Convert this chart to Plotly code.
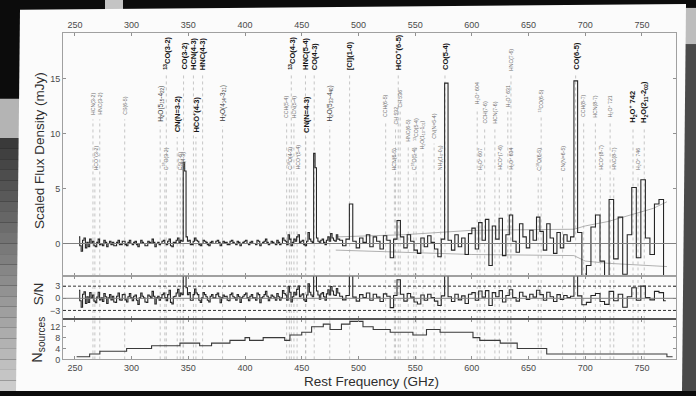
import plotly.graph_objects as go

W, H = 696, 396


def px(x):
    return x / W


def py(y):
    return 1 - y / H


# ---------------- data ----------------
# stacked spectrum, segment A: 253-483 GHz in 1.25 GHz channels
SEG_A_START, SEG_A_WIDTH = 253.0, 1.25
flux_a = [
    0.6, -0.2, -0.7, 0.3, 0.5, -0.4, 0.1, -0.3, 0.4, 0.0, 0.2, -0.2, -0.3, 0.1, 0.4, -0.1, 0.0, -0.2, 0.3, 0.1,
    -0.3, 0.0, 0.2, -0.1, 0.1, -0.2, -0.2, 0.1, 0.3, -0.1, -0.1, 0.2, 0.2, -0.1, -0.2, 0.1, 0.3, 0.0, -0.1, 0.1,
    0.2, -0.1, -0.3, 0.0, 0.3, 0.1, 0.0, -0.2, -0.2, 0.2, 0.1, 0.0, 0.4, 0.1, -0.3, 0.0, 0.1, -0.1, 0.0, 0.2,
    0.3, 0.0, -0.1, 0.2, 0.4, -0.2, -0.3, 0.1, 0.1, 0.3, 0.5, 0.1, 0.3, 0.2, 7.4, 6.6, 0.6, 0.2, 0.3, -0.1,
    -0.1, 0.2, 0.5, 0.3, 0.2, -0.1, -0.2, 0.0, 0.3, 0.2, 0.1, -0.1, -0.2, 0.1, 0.2, 0.0, 0.0, 0.2, 0.3, 0.1,
    -0.2, 0.0, 0.2, 0.1, 0.1, -0.1, -0.1, 0.2, 0.3, 0.1, 0.0, -0.1, 0.2, 0.1, -0.2, 0.0, 0.1, 0.2, 0.3, 0.0,
    -0.1, 0.1, 0.2, 0.0, 0.0, -0.1, 0.3, 0.2, -0.2, 0.0, 0.1, 0.2, 0.4, 0.1, -0.1, 0.0, 0.2, 0.1, 0.0, -0.1,
    0.3, 0.1, -0.1, 0.0, 0.5, 0.3, 0.2, -0.1, 0.8, 0.4, -0.2, 0.1, 0.4, 0.2, 0.6, 0.8, 0.1, 0.2, 0.3, -0.1,
    -0.2, 0.2, 1.0, 0.4, 0.2, 0.1, 8.2, 6.9, 0.5, 0.2, 0.0, 0.3, 0.4, 0.1, -0.1, 0.3, 0.6, 0.2, 0.9, 0.5,
    0.3, 0.2, 0.8, 0.4,
]
sn_a = [
    2.0, -0.6, -2.2, 1.0, 1.6, -1.3, 0.4, -1.0, 1.4, 0.1, 0.8, -0.7, -1.1, 0.3, 1.5, -0.4, 0.1, -0.8, 1.2, 0.4,
    -1.3, 0.1, 0.9, -0.4, 0.5, -0.9, -1.0, 0.5, 1.3, -0.4, -0.5, 0.9, 1.0, -0.4, -0.9, 0.4, 1.2, 0.1, -0.6, 0.5,
    0.8, -0.5, -1.5, 0.1, 1.3, 0.5, 0.1, -0.9, -1.0, 0.8, 0.5, 0.1, 1.7, 0.5, -1.4, 0.1, 0.5, -0.5, 0.1, 0.9,
    1.3, 0.2, -0.6, 0.9, 2.0, -1.0, -1.4, 0.4, 0.5, 1.3, 2.2, 0.5, 1.3, 0.9, 25.0, 22.0, 2.6, 0.9, 1.4, -0.5,
    -0.5, 0.9, 2.3, 1.3, 0.9, -0.5, -1.0, 0.1, 1.4, 0.9, 0.4, -0.5, -0.9, 0.5, 0.9, 0.1, 0.1, 0.9, 1.3, 0.4,
    -1.1, 0.1, 0.8, 0.4, 0.5, -0.5, -0.6, 0.9, 1.3, 0.4, 0.1, -0.5, 0.9, 0.4, -1.0, 0.1, 0.5, 0.9, 1.3, 0.1,
    -0.6, 0.5, 0.9, 0.1, 0.1, -0.5, 1.3, 0.9, -1.1, 0.1, 0.4, 0.9, 1.7, 0.5, -0.6, 0.1, 0.8, 0.5, 0.1, -0.5,
    1.2, 0.4, -0.5, 0.1, 1.9, 1.2, 0.8, -0.5, 2.9, 1.5, -0.9, 0.4, 1.5, 0.8, 2.2, 3.0, 0.4, 0.8, 1.1, -0.4,
    -0.8, 0.8, 3.6, 1.5, 0.8, 0.4, 25.0, 22.0, 1.8, 0.8, -0.2, 1.1, 1.4, 0.4, -0.5, 1.1, 2.1, 0.8, 2.9, 1.8,
    0.8, 0.7, 2.4, 1.3,
]
# segment B: 483-693 GHz in 3 GHz channels
SEG_B_START, SEG_B_WIDTH = 483.0, 3.0
flux_b = [
    0.3, -0.2, 0.4, 3.6, 0.2, -0.4, 0.5, 0.1, 0.8, -0.3,
    0.6, 0.2, -0.5, 0.7, 0.3, -1.3, 0.4, 2.1, 0.6, -0.4,
    0.8, 0.2, -0.6, -0.9, 0.5, -0.3, 0.7, 0.1, -0.5, -1.2,
    0.4, 14.6, 0.3, -0.6, 0.8, -0.3, 0.5, -1.0, 0.9, 1.4,
    -0.5, 1.9, 0.3, 2.2, -2.0, 1.6, 0.4, 2.3, -1.1, 0.8,
    2.6, 0.2, -0.8, 1.8, 0.6, -0.4, 1.2, 0.3, 2.4, 1.1,
    -0.6, 1.8, 0.5, -0.9, 1.0, -0.4, 0.8, 0.2, 0.6, 14.8,
]
sn_b = [
    0.5, -0.4, 0.7, 6.0, 0.3, -0.7, 0.9, 0.2, 1.3, -0.5,
    1.0, 0.3, -0.8, 1.1, 0.5, -2.3, 0.7, 4.6, 1.0, -0.7,
    1.2, 0.3, -0.9, -1.4, 0.8, -0.5, 1.0, 0.2, -0.7, -1.8,
    0.6, 20.0, 0.4, -0.8, 1.0, -0.4, 0.6, -1.3, 1.0, 1.4,
    -0.5, 1.8, 0.3, 1.9, -1.8, 1.4, 0.4, 1.9, -0.9, 0.7,
    2.1, 0.2, -0.7, 1.5, 0.5, -0.3, 1.0, 0.3, 2.0, 0.9,
    -0.5, 1.5, 0.4, -0.8, 0.9, -0.3, 0.7, 0.2, 0.5, 12.0,
]
# segment C: 693-773 GHz in 4 GHz channels
SEG_C_START, SEG_C_WIDTH = 693.0, 4.0
flux_c = [
    1.0, -3.5, -2.0, 1.5, 2.6, -1.6, -3.5, 4.0, -1.4, 2.4,
    -2.8, 0.8, 5.1, -1.3, 5.8, 0.5, -1.0, 3.6, 4.0, -3.5,
]
sn_c = [
    0.6, -1.6, -1.0, 0.7, 1.2, -0.8, -1.5, 1.7, -0.6, 1.0,
    -2.2, 0.4, 2.6, -0.5, 3.0, 0.2, -0.4, 1.7, 1.4, -0.6,
]

# noise envelope (grey lines) in the flux panel
env_freq = [480, 540, 600, 690, 700, 720, 740, 760, 772]
env_hi = [0.6, 0.8, 1.2, 1.3, 1.6, 2.0, 2.6, 3.2, 3.8]
env_lo = [-0.6, -0.8, -1.0, -1.1, -1.6, -1.8, -1.9, -2.0, -2.1]

# number of sources contributing (step function)
nsrc_edges = [251.5, 263, 272, 295.6, 317.6, 342.6, 360, 370.5, 386.7, 400,
              404, 416, 435, 439.6, 450, 458.7, 469, 475, 485, 492.5,
              504, 513, 528, 548, 560, 572, 601, 607, 625, 640,
              666, 772, 777]
nsrc_vals = [1, 2, 3, 4, 5, 6, 5, 6, 7, 8,
             7, 8, 7, 9, 10, 12, 13, 11, 13, 14,
             12, 11, 10, 9, 11, 10, 8, 7, 6, 4,
             2, 1]

SN_THRESH = 3

# spectral lines: frequency, label, label-bottom (flux units), style
line_freq = [265.9, 267.6, 271.9, 293.9, 325.2, 329.3, 330.6, 340.2, 342.9, 345.3,
             345.8, 354.5, 356.7, 362.6, 380.2, 436.7, 439.1, 440.8, 443.1, 445.9,
             453.3, 453.6, 461.0, 474.7, 492.2, 524.0, 531.7, 532.7, 535.1, 536.8,
             543.9, 548.8, 550.9, 556.9, 566.7, 572.5, 576.3, 604.7, 607.2, 611.3,
             620.3, 624.2, 631.7, 634.3, 634.5, 658.5, 661.1, 680.0, 691.5, 698.6,
             708.9, 713.3, 721.9, 725.1, 742.1, 746.5, 752.0]
line_label = [
    "HCN(3-2)", "HCO<sup>+</sup>(3-2)", "HNC(3-2)", "CS(6-5)",
    "H<sub>2</sub>O(5<sub>15</sub>-4<sub>22</sub>)", "C<sup>18</sup>O(3-2)",
    "<sup>13</sup>CO(3-2)", "CN(N=3-2)", "CS(7-6)", "CH(4-3)",
    "CO(3-2)", "HCN(4-3)", "HCO<sup>+</sup>(4-3)", "HNC(4-3)",
    "H<sub>2</sub>O(4<sub>14</sub>-3<sub>21</sub>)", "CCH(5-4)", "C<sup>18</sup>O(4-3)",
    "<sup>13</sup>CO(4-3)", "HCN(5-4)", "HCO<sup>+</sup>(5-4)",
    "HNC(5-4)", "CN(N=4-3)", "CO(4-3)", "H<sub>2</sub>O(5<sub>33</sub>-4<sub>40</sub>)",
    "[CI](1-0)", "CCH(6-5)", "HCN(6-5)", "CH 532", "HCO<sup>+</sup>(6-5)", "CH 536",
    "HNC(6-5)", "C<sup>18</sup>O(5-4)", "<sup>13</sup>CO(5-4)",
    "H<sub>2</sub>O(1<sub>10</sub>-1<sub>01</sub>)", "CN(N=5-4)",
    "NH<sub>3</sub>(1<sub>0</sub>-0<sub>0</sub>)", "CO(5-4)",
    "H<sub>2</sub>O<sup>+</sup> 604", "H<sub>2</sub>O<sup>+</sup> 607", "CCH(7-6)",
    "HCN(7-6)", "HCO<sup>+</sup>(7-6)", "H<sub>2</sub>O<sup>+</sup> 631",
    "H<sub>2</sub>O<sup>+</sup> 634", "HNC(7-6)", "C<sup>18</sup>O(6-5)",
    "<sup>13</sup>CO(6-5)", "CN(N=6-5)", "CO(6-5)", "CCH(8-7)",
    "HCN(8-7)", "HCO<sup>+</sup>(8-7)", "H<sub>2</sub>O<sup>+</sup> 721", "HNC(8-7)",
    "H<sub>2</sub>O<sup>+</sup> 742", "H<sub>2</sub>O<sup>+</sup> 746",
    "H<sub>2</sub>O(2<sub>11</sub>-2<sub>02</sub>)",
]
line_ybot = [11.6, 6.6, 11.6, 11.6, 11.0, 6.6, 15.7, 10.0, 6.6, 6.6,
             15.7, 15.7, 10.0, 15.7, 11.0, 11.3, 6.6, 15.7, 11.3, 6.6,
             15.7, 10.0, 15.7, 11.0, 15.7, 11.4, 6.6, 10.7, 15.7, 12.3,
             9.2, 6.6, 9.2, 8.5, 9.4, 6.6, 15.7, 12.6, 6.6, 10.8,
             10.8, 6.6, 12.3, 6.6, 15.6, 6.5, 11.8, 6.5, 15.7, 11.4,
             11.4, 6.6, 11.4, 6.6, 10.9, 6.6, 10.9]
line_style = ["s", "s", "s", "s", "m", "s", "b", "b", "s", "s",
              "b", "b", "b", "b", "m", "s", "s", "b", "s", "s",
              "b", "b", "b", "m", "b", "s", "s", "s", "b", "s",
              "s", "s", "s", "s", "s", "s", "b", "s", "s", "s",
              "s", "s", "s", "s", "s", "s", "s", "s", "b", "s",
              "s", "s", "s", "s", "b", "s", "b"]

# ---------------- layout geometry ----------------
X_RANGE = [239.5, 780]
FLUX_RANGE = [-3, 19.2]
SN_RANGE = [-5.1, 5.4]
N_RANGE = [0, 14.9]
XDOM = [px(63), px(676)]
DOM_FLUX = [py(280), py(33)]
DOM_SN = [py(323), py(280)]
DOM_N = [py(364), py(323)]
FONT = "Liberation Sans, Arial, DejaVu Sans, sans-serif"


def centers(start, width, n):
    return [start + width * (i + 0.5) for i in range(n)]


freq = (centers(SEG_A_START, SEG_A_WIDTH, len(flux_a))
        + centers(SEG_B_START, SEG_B_WIDTH, len(flux_b))
        + centers(SEG_C_START, SEG_C_WIDTH, len(flux_c)))
flux = flux_a + flux_b + flux_c
sn = sn_a + sn_b + sn_c

fig = go.Figure()

# dotted line markers in each panel
dx1, dy1, dx2, dy2, dx3, dy3 = [], [], [], [], [], []
for f, yb in zip(line_freq, line_ybot):
    dx1 += [f, f, None]
    dy1 += [FLUX_RANGE[0], yb - 0.3, None]
    dx2 += [f, f, None]
    dy2 += [SN_RANGE[0], SN_RANGE[1], None]
    dx3 += [f, f, None]
    dy3 += [N_RANGE[0], N_RANGE[1], None]
dot = dict(color="#b8b8b8", width=0.8, dash="dot")
fig.add_trace(go.Scatter(x=dx1, y=dy1, mode="lines", line=dot, xaxis="x", yaxis="y",
                         hoverinfo="skip", showlegend=False))
fig.add_trace(go.Scatter(x=dx2, y=dy2, mode="lines", line=dot, xaxis="x2", yaxis="y2",
                         hoverinfo="skip", showlegend=False))
fig.add_trace(go.Scatter(x=dx3, y=dy3, mode="lines", line=dot, xaxis="x3", yaxis="y3",
                         hoverinfo="skip", showlegend=False))

# noise envelope
for env in (env_hi, env_lo):
    fig.add_trace(go.Scatter(x=env_freq, y=env, mode="lines",
                             line=dict(color="#a8a8a8", width=0.9),
                             xaxis="x", yaxis="y", showlegend=False))

# spectrum
fig.add_trace(go.Scatter(x=freq, y=flux, mode="lines",
                         line=dict(color="#262626", width=1.1, shape="hvh"),
                         xaxis="x", yaxis="y", showlegend=False))
fig.add_trace(go.Scatter(x=freq, y=sn, mode="lines",
                         line=dict(color="#262626", width=1.1, shape="hvh"),
                         xaxis="x2", yaxis="y2", showlegend=False))
fig.add_trace(go.Scatter(x=nsrc_edges, y=nsrc_vals + [nsrc_vals[-1]], mode="lines",
                         line=dict(color="#3a3a3a", width=1.1, shape="hv"),
                         xaxis="x3", yaxis="y3", showlegend=False))

# ---------------- background (photo of a slide) ----------------
shapes = []
# left strip gradient
shapes.append(dict(type="rect", xref="paper", yref="paper", x0=0, x1=px(20),
                   y0=py(140), y1=py(100), fillcolor="#b4b4b4", line_width=0, layer="below"))
n = 24
for k in range(n):
    g = int(0x3a + (0xcc - 0x3a) * k / (n - 1))
    y0 = 140 + (396 - 140) * k / n
    y1 = 140 + (396 - 140) * (k + 1) / n
    shapes.append(dict(type="rect", xref="paper", yref="paper", x0=0, x1=px(20),
                       y0=py(y1), y1=py(y0), fillcolor=f"rgb({g},{g},{g})",
                       line_width=0, layer="below"))
# light patch at top
shapes.append(dict(type="rect", xref="paper", yref="paper", x0=px(105), x1=px(123),
                   y0=py(11), y1=py(0), fillcolor="#c4c4c4", line_width=0, layer="below"))
# right strip
shapes.append(dict(type="rect", xref="paper", yref="paper", x0=px(680), x1=1,
                   y0=py(45), y1=py(8), fillcolor="#bdbdbd", line_width=0, layer="below"))
shapes.append(dict(type="rect", xref="paper", yref="paper", x0=px(680), x1=1,
                   y0=0, y1=py(45), fillcolor="#4a4a4a", line_width=0, layer="below"))
# white sheet (slightly rotated)
path = (f"M {px(20)},{py(10)} L {px(686)},{py(4)} L {px(682)},{py(396)} "
        f"L {px(16)},{py(396)} Z")
shapes.append(dict(type="path", xref="paper", yref="paper", path=path,
                   fillcolor="#fbfbfb", line_width=0, layer="below"))

# reference lines
shapes.append(dict(type="line", xref="x domain", yref="y", x0=0, x1=1, y0=0, y1=0,
                   line=dict(color="#808080", width=1)))
shapes.append(dict(type="line", xref="x2 domain", yref="y2", x0=0, x1=1, y0=0, y1=0,
                   line=dict(color="#808080", width=1)))
for s in (SN_THRESH, -SN_THRESH):
    shapes.append(dict(type="line", xref="x2 domain", yref="y2", x0=0, x1=1, y0=s, y1=s,
                       line=dict(color="#333333", width=1, dash="3px,2px")))
shapes.append(dict(type="line", xref="paper", yref="paper", x0=XDOM[0], x1=XDOM[1],
                   y0=DOM_SN[0], y1=DOM_SN[0], line=dict(color="#555555", width=2)))

# ---------------- annotations ----------------
ann = []
for f, lab, yb, st in zip(line_freq, line_label, line_ybot, line_style):
    if st == "b":
        txt, size, col = f"<b>{lab}</b>", 7.5, "#151515"
    elif st == "m":
        txt, size, col = lab, 6.5, "#3c3c3c"
    else:
        txt, size, col = lab, 5.2, "#6e6e6e"
    ann.append(dict(x=f, y=yb, xref="x", yref="y", text=txt, textangle=-90,
                    xanchor="center", yanchor="bottom", showarrow=False,
                    font=dict(family=FONT, size=size, color=col), borderpad=0))

ann.append(dict(x=px(39), y=py(153), xref="paper", yref="paper",
                text="Scaled Flux Density (mJy)", textangle=-90, showarrow=False,
                xanchor="center", yanchor="middle",
                font=dict(family=FONT, size=13.5, color="#2e2e2e")))
ann.append(dict(x=px(38), y=py(298), xref="paper", yref="paper", text="S/N",
                textangle=-90, showarrow=False, xanchor="center", yanchor="middle",
                font=dict(family=FONT, size=13.5, color="#2e2e2e")))
ann.append(dict(x=px(38), y=py(344), xref="paper", yref="paper",
                text="N<sub>sources</sub>", textangle=-90, showarrow=False,
                xanchor="center", yanchor="middle",
                font=dict(family=FONT, size=14.5, color="#2e2e2e")))
ann.append(dict(x=px(371), y=py(386), xref="paper", yref="paper",
                text="Rest Frequency (GHz)", showarrow=False,
                xanchor="center", yanchor="middle", borderpad=0,
                font=dict(family=FONT, size=13.5, color="#2e2e2e")))

tickfont = dict(family=FONT, size=9, color="#4a4a4a")
xt = [250, 300, 350, 400, 450, 500, 550, 600, 650, 700, 750]
axcommon = dict(showgrid=False, zeroline=False, showline=True, linecolor="#a0a0a0",
                linewidth=1, ticks="inside", ticklen=3, tickcolor="#909090",
                mirror="ticks", tickfont=tickfont)

fig.update_layout(
    width=W, height=H, autosize=False,
    margin=dict(l=0, r=0, t=0, b=0, pad=0),
    paper_bgcolor="#0c0c0c", plot_bgcolor="rgba(0,0,0,0)",
    showlegend=False,
    shapes=shapes, annotations=ann,
    xaxis=dict(domain=XDOM, range=X_RANGE, anchor="y", side="top", tickvals=xt,
               showticklabels=True, **axcommon),
    xaxis2=dict(domain=XDOM, range=X_RANGE, anchor="y2", matches="x", tickvals=xt,
                showticklabels=False, **axcommon),
    xaxis3=dict(domain=XDOM, range=X_RANGE, anchor="y3", matches="x", side="bottom",
                tickvals=xt, showticklabels=True, **axcommon),
    yaxis=dict(domain=DOM_FLUX, range=FLUX_RANGE, anchor="x", tickvals=[0, 5, 10, 15],
               **axcommon),
    yaxis2=dict(domain=DOM_SN, range=SN_RANGE, anchor="x2", tickvals=[-3, 0, 3],
                **axcommon),
    yaxis3=dict(domain=DOM_N, range=N_RANGE, anchor="x3", tickvals=[0, 4, 8, 12],
                **axcommon),
)

fig.write_html("out.html")
